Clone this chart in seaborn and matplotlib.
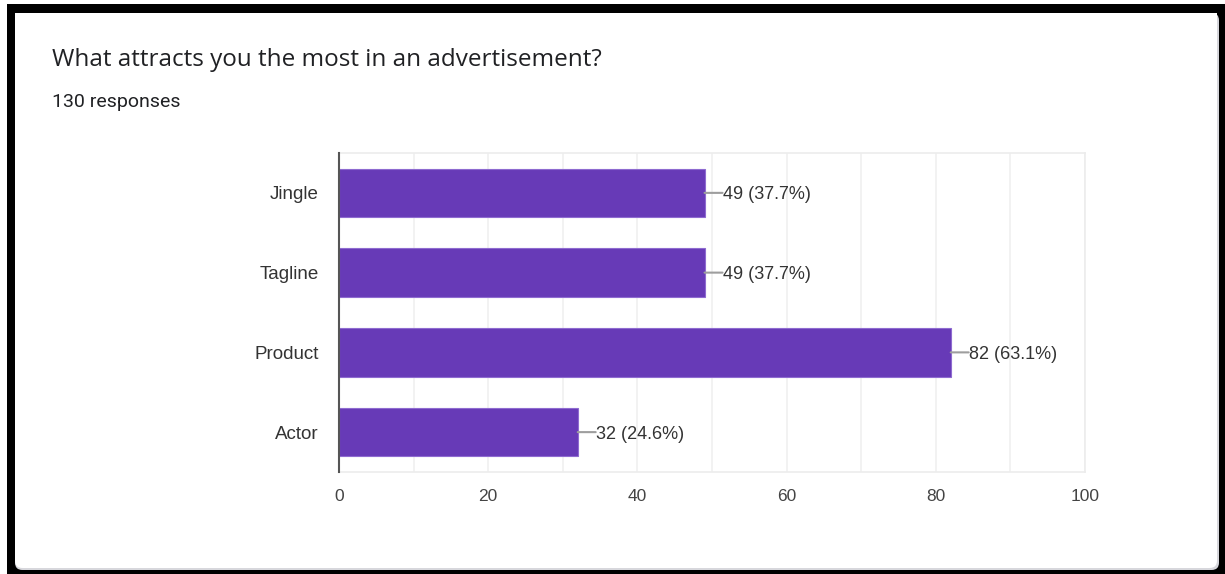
import matplotlib
matplotlib.use("Agg")
import matplotlib.pyplot as plt
from matplotlib.patches import Rectangle, FancyBboxPatch
from matplotlib.ticker import MultipleLocator
import pandas as pd
import seaborn as sns

# Survey answers
categories = ["Jingle", "Tagline", "Product", "Actor"]
counts = [49, 49, 82, 32]
total_responses = 130
title = "What attracts you the most in an advertisement?"
subtitle = f"{total_responses} responses"
x_ticks = [0, 20, 40, 60, 80, 100]

df = pd.DataFrame({"option": categories, "count": counts})

sns.set_theme(style="white")
plt.rcParams["font.family"] = ["Liberation Sans", "DejaVu Sans"]

W, H = 1225, 574
fig = plt.figure(figsize=(W / 100, H / 100), dpi=100)
fig.patch.set_facecolor("white")

# Card frame: black border, soft shadow, white panel
def px_rect(x0, y0, x1, y1):
    return (x0 / W, 1 - y1 / H, (x1 - x0) / W, (y1 - y0) / H)

bx, by, bw, bh = px_rect(7, 4, 1225, 574)
fig.patches.append(Rectangle((bx, by), bw, bh, transform=fig.transFigure,
                             facecolor="black", edgecolor="none", zorder=0))
sx, sy, sw, sh = px_rect(15, 13, 1219, 570)
fig.patches.append(FancyBboxPatch((sx, sy), sw, sh, transform=fig.transFigure,
                                  boxstyle="round,pad=0,rounding_size=0.006",
                                  facecolor="#d7d7dc", edgecolor="none", zorder=0.5,
                                  mutation_aspect=W / H))
ix, iy, iw, ih = px_rect(15, 13, 1217, 568)
fig.patches.append(Rectangle((ix, iy + ih * 0.5), iw, ih * 0.5,
                             transform=fig.transFigure, facecolor="white",
                             edgecolor="none", zorder=0.6))
fig.patches.append(FancyBboxPatch((ix, iy), iw, ih, transform=fig.transFigure,
                                  boxstyle="round,pad=0,rounding_size=0.006",
                                  facecolor="white", edgecolor="none", zorder=0.6,
                                  mutation_aspect=W / H))

fig.text(52 / W, 1 - 60 / H, title, family=["Open Sans", "DejaVu Sans"],
         fontsize=17.5, color="#202124", ha="left", va="center", zorder=3)
fig.text(52 / W, 1 - 102 / H, subtitle, family=["Roboto", "DejaVu Sans"],
         fontsize=14, color="#202124", ha="left", va="center", zorder=3)

ax = fig.add_axes([339 / W, 1 - 472 / H, (1085 - 339) / W, (472 - 153) / H])
ax.set_zorder(2)
ax.set_facecolor("none")

sns.barplot(data=df, y="option", x="count", orient="h", color="#673AB7",
            saturation=1, width=0.61, ax=ax, zorder=3,
            edgecolor="#8e6bd0", linewidth=0.8)

ax.set_xlim(0, 100)
ax.set_ylim(len(categories) - 0.5, -0.5)
ax.set_xticks(x_ticks)
ax.xaxis.set_minor_locator(MultipleLocator(10))
ax.grid(axis="x", which="both", color="#f0f0f0", lw=1.2, zorder=0)
ax.set_axisbelow(True)
ax.set_xlabel("")
ax.set_ylabel("")

for side in ["top", "right", "bottom"]:
    ax.spines[side].set_color("#ececec")
    ax.spines[side].set_linewidth(1.2)
ax.spines["left"].set_color("#555555")
ax.spines["left"].set_linewidth(1.5)
ax.spines["left"].set_zorder(4)

ax.tick_params(axis="both", which="both", length=0)
ax.tick_params(axis="x", pad=12, labelsize=12.5, labelcolor="#444444")
ax.tick_params(axis="y", pad=14.5, labelsize=13.5, labelcolor="#333333")

for i, v in enumerate(counts):
    pct = v / total_responses * 100
    ax.annotate("", xy=(v, i), xytext=(18, 0), textcoords="offset pixels",
                arrowprops=dict(arrowstyle="-", color="#9e9e9e", lw=1.5,
                                shrinkA=0, shrinkB=0), zorder=4)
    ax.annotate(f"{v} ({pct:.1f}%)", xy=(v, i), xytext=(18, -2),
                textcoords="offset pixels", ha="left", va="center",
                fontsize=13, color="#333333", zorder=5)

fig.savefig("out.png", dpi=100, facecolor="white")
